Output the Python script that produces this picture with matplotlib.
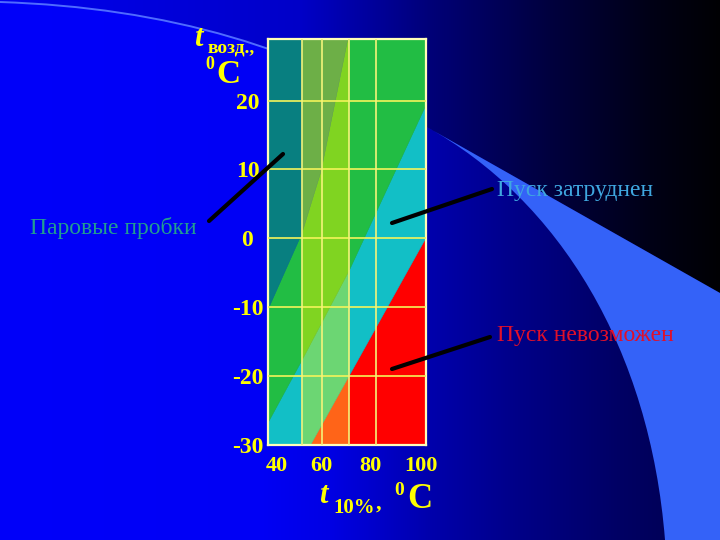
import numpy as np
import matplotlib
matplotlib.use("Agg")
import matplotlib.pyplot as plt
from matplotlib.path import Path
from matplotlib.patches import PathPatch

# ---------------- data ----------------
y_ticks = [20, 10, 0, -10, -20, -30]
y_tick_labels = ["20", "10", "0", "-10", "-20", "-30"]
x_tick_labels = ["40", "60", "80", "100"]

# vertical bands of the diagram (t10%, degC)
band_edges = [40, 52.5, 70, 98.5]

# boundary: vapour lock (above this line)
vapor_x = [40, 52.3, 59.4, 69.3]
vapor_y = [-10, 0.8, 9.8, 28.9]
# boundary: normal start / difficult start
difficult_x = [40, 52.5, 70, 98.5]
difficult_y = [-26.5, -17.5, -4.5, 19.5]
# boundary: difficult start / start impossible
impossible_x = [55.4, 69.7, 98.5]
impossible_y = [-30, -20, 0.2]

# colours per band: [impossible, difficult, normal, vapour]
band_colors = [
    ["#FF6418", "#12BFC6", "#22BD44", "#087F80"],
    ["#FF6418", "#6CD673", "#80D421", "#6DAF47"],
    ["#FF0000", "#12BFC6", "#22BD44", "#087F80"],
]

grid_y = [20, 10, 0, -10, -20]
grid_x = [52.5, 60, 70, 80]

YMIN, YMAX = -30, 28.9
W, H = 720, 540

plt.rcParams["font.family"] = ["Liberation Serif", "DejaVu Serif"]

fig = plt.figure(figsize=(7.2, 5.4), dpi=100)

# ---------------- background ----------------
bg = fig.add_axes([0, 0, 1, 1], zorder=0)
bg.set_xlim(0, W)
bg.set_ylim(H, 0)
bg.axis("off")

xs_px = np.arange(W) + 0.5
base_b = np.interp(xs_px, [0, 260, 330, 430, 520, 620, 720],
                   [250, 245, 228, 172, 135, 100, 75]) / 255.0
img = np.zeros((H, W, 3))
img[:, :, 2] = base_b[None, :]
bg.imshow(img, extent=(0, W, H, 0), aspect="auto", zorder=0)

outer_b = np.interp(xs_px, [0, 300, 430, 550, 650, 720],
                    [240, 200, 120, 62, 22, 3]) / 255.0
img2 = np.zeros((H, W, 3))
img2[:, :, 2] = outer_b[None, :]
im2 = bg.imshow(img2, extent=(0, W, H, 0), aspect="auto", zorder=1)
verts = [(0, 2), (250, 10), (425, 126), (720, 293), (720, 0), (0, 0), (0, 2)]
codes = [Path.MOVETO, Path.CURVE3, Path.CURVE3, Path.LINETO, Path.LINETO,
         Path.LINETO, Path.CLOSEPOLY]
clip = PathPatch(Path(verts, codes), transform=bg.transData, facecolor="none",
                 edgecolor="none")
bg.add_patch(clip)
im2.set_clip_path(clip)

band_verts = [(425, 126), (720, 293), (720, 540), (665, 540),
              (650, 350), (560, 200), (425, 126), (425, 126)]
band_codes = [Path.MOVETO, Path.LINETO, Path.LINETO, Path.LINETO,
              Path.CURVE4, Path.CURVE4, Path.CURVE4, Path.CLOSEPOLY]
bg.add_patch(PathPatch(Path(band_verts, band_codes), facecolor="#3462F8",
                       edgecolor="none", zorder=2))
arc = Path([(0, 2), (250, 10), (425, 126)],
           [Path.MOVETO, Path.CURVE3, Path.CURVE3])
bg.add_patch(PathPatch(arc, facecolor="none", edgecolor="#4F6BFF", lw=1.4,
                       zorder=3))

# ---------------- main diagram ----------------
left, right, top, bottom = 268.3, 425.7, 39.3, 445.0
ax = fig.add_axes([left / W, 1 - bottom / H, (right - left) / W,
                   (bottom - top) / H], zorder=5)
ax.set_xlim(band_edges[0], band_edges[-1])
ax.set_ylim(YMIN, YMAX)
ax.patch.set_alpha(0)

for i in range(len(band_edges) - 1):
    xa, xb = band_edges[i], band_edges[i + 1]
    xs = np.linspace(xa, xb, 300)
    l3 = np.clip(np.interp(xs, impossible_x, impossible_y, left=YMIN - 10), YMIN, YMAX)
    l2 = np.clip(np.interp(xs, difficult_x, difficult_y), YMIN, YMAX)
    l1 = np.clip(np.interp(xs, vapor_x, vapor_y, right=YMAX + 10), YMIN, YMAX)
    c = band_colors[i]
    ax.fill_between(xs, YMIN, l3, color=c[0], lw=0.4, edgecolor=c[0])
    ax.fill_between(xs, l3, l2, color=c[1], lw=0.4, edgecolor=c[1])
    ax.fill_between(xs, l2, l1, color=c[2], lw=0.4, edgecolor=c[2])
    ax.fill_between(xs, l1, YMAX, color=c[3], lw=0.4, edgecolor=c[3])

for gy in grid_y:
    ax.axhline(gy, color="#F4F45A", lw=1.2, zorder=3)
for gx in grid_x:
    ax.axvline(gx, color="#F4F47A", lw=1.2, zorder=3)
for s in ax.spines.values():
    s.set_color("#FFFFB8")
    s.set_linewidth(1.6)

ax.set_yticks(y_ticks, y_tick_labels)
xt = [43.3, 59.6, 78.1, 96.7]
ax.set_xticks(xt, x_tick_labels)
ax.tick_params(axis="both", length=0, colors="#FFFF00")
ax.tick_params(axis="y", pad=15, labelsize=17)
ax.tick_params(axis="x", pad=8, labelsize=16)
for lab in ax.get_yticklabels():
    lab.set_horizontalalignment("center")
    lab.set_fontweight("bold")
for lab in ax.get_xticklabels():
    lab.set_fontweight("bold")

# ---------------- overlay: titles, labels, leader lines ----------------
ov = fig.add_axes([0, 0, 1, 1], zorder=10)
ov.set_xlim(0, W)
ov.set_ylim(H, 0)
ov.axis("off")
ov.patch.set_alpha(0)

yel = "#FFFF00"
ov.text(194, 46, "t", color=yel, fontsize=22, fontweight="bold",
        fontstyle="italic", ha="left", va="baseline")
ov.text(208, 53, "возд.,", color=yel, fontsize=14, fontweight="bold",
        ha="left", va="baseline")
ov.text(205, 69, "0", color=yel, fontsize=13, fontweight="bold",
        ha="left", va="baseline")
ov.text(216, 83, "C", color=yel, fontsize=24, fontweight="bold",
        ha="left", va="baseline")

ov.text(319, 503, "t", color=yel, fontsize=22, fontweight="bold",
        fontstyle="italic", ha="left", va="baseline")
ov.text(333, 513, "10%", color=yel, fontsize=15, fontweight="bold",
        ha="left", va="baseline")
ov.text(376, 509, ",", color=yel, fontsize=16, fontweight="bold",
        ha="left", va="baseline")
ov.text(394, 495, "0", color=yel, fontsize=14, fontweight="bold",
        ha="left", va="baseline")
ov.text(407, 508, "C", color=yel, fontsize=25, fontweight="bold",
        ha="left", va="baseline")

ov.text(30, 234, "Паровые пробки", color="#229E90", fontsize=17,
        ha="left", va="baseline")
ov.text(497, 196, "Пуск затруднен", color="#3FA7E0", fontsize=17,
        ha="left", va="baseline")
ov.text(497, 341, "Пуск невозможен", color="#E0102A", fontsize=17,
        ha="left", va="baseline")

ov.plot([209, 283], [221, 154], color="black", lw=3, solid_capstyle="round")
ov.plot([392, 492], [223, 189], color="black", lw=3, solid_capstyle="round")
ov.plot([392, 490], [369, 337], color="black", lw=3, solid_capstyle="round")

fig.savefig("out.png", dpi=100)
